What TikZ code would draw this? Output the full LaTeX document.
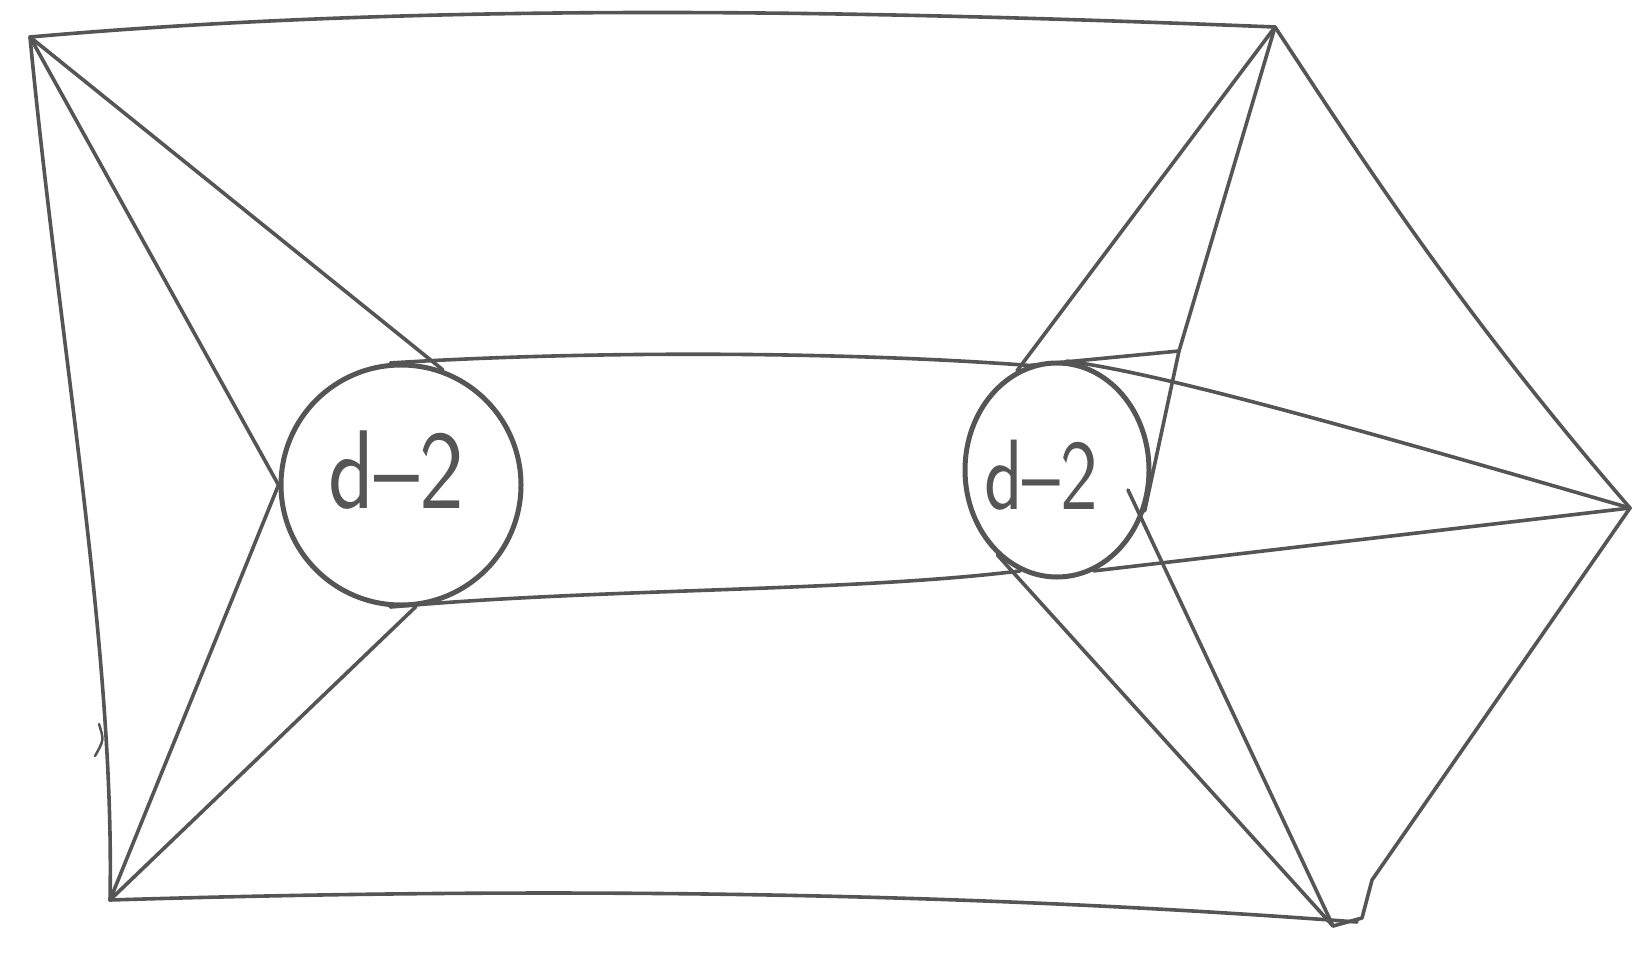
\documentclass[tikz,border=0pt]{standalone}
\usetikzlibrary{shapes.geometric}
\definecolor{ink}{HTML}{555555}
\begin{document}
\begin{tikzpicture}[x=1pt,y=-1pt, line cap=round, line join=round,
  edge/.style={draw=ink, line width=3.6pt},
  ring/.style={draw=ink, line width=5pt, inner sep=0pt},
  lbl/.style={text=ink, inner sep=0pt}]
\useasboundingbox (0,0) rectangle (1637,958);
\coordinate (A) at (30,37);
\coordinate (B) at (1275,27);
\coordinate (C) at (1630,508);
\coordinate (D) at (1333,926);
\coordinate (E) at (110,900);
\coordinate (Dx) at (1357,922);
\coordinate (Ck) at (1372,880);
\coordinate (Dk) at (1362,918);
\coordinate (Q) at (1179,351);
\coordinate (r2) at (1128,490);
\node[ring, circle, minimum size=240pt] (L) at (401,485) {};
\node[ring, ellipse, minimum width=184pt, minimum height=214pt] (R) at (1057,470) {};
\node[lbl, font=\sffamily\fontsize{112}{112}\selectfont, xscale=0.85] (tl) at (396,470) {d–2};
\node[lbl, font=\sffamily\fontsize{100}{100}\selectfont, xscale=0.8] (tr) at (1041,475) {d–2};
% outer frame
\draw[edge] (A) .. controls (450,0) and (900,12) .. (B);
\draw[edge] (A) .. controls (60,350) and (115,650) .. (E);
\draw[edge] (E) .. controls (600,885) and (1000,895) .. (Dx);
\draw[edge] (B) .. controls (1350,140) and (1450,300) .. (C);
\draw[edge] (C) -- (Ck) -- (Dk) -- (D);
% left fan
\draw[edge] (A) -- (L.70);
\draw[edge] (A) -- (L.west);
\draw[edge] (E) -- (L.west);
\draw[edge] (E) -- (L.-83);
% tube
\draw[edge] (L.95) .. controls (600,350) and (850,352) .. (R.105) -- (Q);
\draw[edge] (L.265) .. controls (600,588) and (850,592) .. (R.-110);
% right fan
\draw[edge] (B) -- (R.112);
\draw[edge] (B) -- (Q) -- (R.-25);
\draw[edge] (R.85) .. controls (1150,372) and (1300,412) .. (C);
\draw[edge] (R.-70) -- (C);
\draw[edge] (D) -- (R.-125);
\draw[edge] (D) -- (r2);
% stray mark
\draw[edge, line width=2.5pt] (99,724) .. controls (104,740) .. (95,756);
\end{tikzpicture}
\end{document}
